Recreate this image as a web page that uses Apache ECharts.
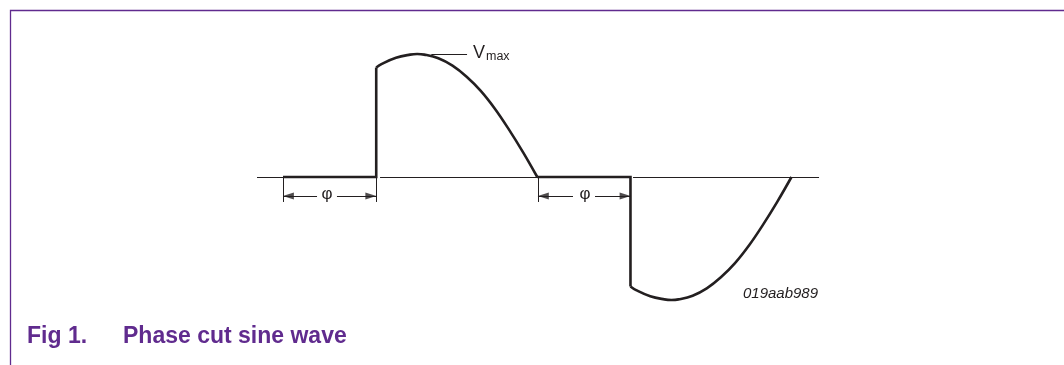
<!DOCTYPE html>
<html>
<head>
<meta charset="utf-8">
<script src="https://cdn.jsdelivr.net/npm/echarts@6/dist/echarts.min.js"></script>
<style>
  html, body { margin: 0; padding: 0; background: #fff; }
  #phase-chart { width: 1064px; height: 365px; }
</style>
</head>
<body>
<div id="phase-chart"></div>
<script>
// x in degrees of the mains cycle, y in units of Vmax
// flat part + switch-on edge of each half
var stepPosX = [0, 66, 66];
var stepPosY = [0, 0, 0.89];
var stepNegX = [180, 246, 246];
var stepNegY = [0, 0, -0.89];
// remaining sine arcs
var arcPosX = [66, 70, 80, 90, 95, 100, 110, 120, 130, 140, 150, 160, 170, 180];
var arcPosY = [0.89, 0.92, 0.97, 0.995, 1, 0.995, 0.965, 0.905, 0.815, 0.70, 0.555, 0.385, 0.20, 0];
var arcNegX = [246, 250, 260, 270, 275, 280, 290, 300, 310, 320, 330, 340, 350, 360];
var arcNegY = [-0.89, -0.92, -0.97, -0.995, -1, -0.995, -0.965, -0.905, -0.815, -0.70, -0.555, -0.385, -0.20, 0];

// thin zero line pieces
var axisSegs = [[-18.4, 66], [68.7, 246], [247.8, 379.5]];

// phi dimension marks
var dimTicks = [0, 66, 180.5, 246];
var tickBottom = -0.203;
var shaftY = -0.154;
var shaftsLeft = [[0, 24.1], [180.5, 205.3]];
var shaftsRight = [[38.2, 66], [220.9, 246]];
var phiX = [31.2, 213.8];
var phiY = -0.138;

// Vmax leader and labels
var leaderX = [105, 130.3];
var leaderY = 1.0;
var vLabel = [134.5, 1.004];
var maxLabel = [143.0, 0.976];
var codeLabel = [378.8, -0.947];

var ink = '#231f20';
var purple = '#602b8e';
var font = '"Liberation Sans", Arial, Helvetica, sans-serif';

var chart = echarts.init(document.getElementById('phase-chart'));

function pairs(xs, ys) { return xs.map(function (x, i) { return [x, ys[i]]; }); }

var segLines = [];
axisSegs.forEach(function (s) {
  segLines.push({ coords: [[s[0], 0], [s[1], 0]] });
});
dimTicks.forEach(function (x) {
  segLines.push({ coords: [[x, 0], [x, tickBottom]] });
});
shaftsLeft.concat(shaftsRight).forEach(function (s) {
  segLines.push({ coords: [[s[0], shaftY], [s[1], shaftY]] });
});
segLines.push({ coords: [[leaderX[0], leaderY], [leaderX[1], leaderY]] });

// arrow heads sit half a head length in from the tick
var headHalf = 3.8;
var heads = [];
shaftsLeft.forEach(function (s) { heads.push([s[0] + headHalf, shaftY, 90]); });
shaftsRight.forEach(function (s) { heads.push([s[1] - headHalf, shaftY, -90]); });

var waveStyle = { color: ink, width: 2.6, join: 'miter', cap: 'butt' };
function waveSeries(data, smooth) {
  return {
    type: 'line',
    data: data,
    smooth: smooth,
    showSymbol: false,
    symbol: 'none',
    silent: true,
    lineStyle: waveStyle,
    z: 3
  };
}

chart.setOption({
  animation: false,
  grid: { left: 254.75, right: 244.25, top: 29.4, bottom: 40.4 },
  xAxis: { type: 'value', min: -20, max: 380, show: false },
  yAxis: { type: 'value', min: -1.2, max: 1.2, show: false },
  series: [
    {
      type: 'lines',
      coordinateSystem: 'cartesian2d',
      symbol: 'none',
      silent: true,
      lineStyle: { color: ink, width: 1, opacity: 1 },
      data: segLines,
      z: 2
    },
    waveSeries(pairs(stepPosX, stepPosY), false),
    waveSeries(pairs(stepNegX, stepNegY), false),
    waveSeries(pairs(arcPosX, arcPosY), 0.4),
    waveSeries(pairs(arcNegX, arcNegY), 0.4),
    {
      type: 'scatter',
      data: heads,
      symbol: 'triangle',
      symbolSize: [7, 11],
      symbolRotate: function (v) { return v[2]; },
      itemStyle: { color: ink },
      silent: true,
      z: 4
    }
  ]
});

function px(p) { return chart.convertToPixel({ gridIndex: 0 }, p); }

var texts = [];
phiX.forEach(function (x) {
  var p = px([x, phiY]);
  texts.push({ type: 'text', style: { x: p[0], y: p[1], text: 'φ', font: '17px ' + font, fill: ink, textAlign: 'center', textVerticalAlign: 'middle' } });
});
var pv = px(vLabel), pm = px(maxLabel), pc = px(codeLabel);
texts.push({ type: 'text', style: { x: pv[0], y: pv[1], text: 'V', font: '18px ' + font, fill: ink, textAlign: 'left', textVerticalAlign: 'middle' } });
texts.push({ type: 'text', style: { x: pm[0] + 1, y: pm[1], text: 'max', font: '12.5px ' + font, fill: ink, textAlign: 'left', textVerticalAlign: 'middle' } });
texts.push({ type: 'text', style: { x: pc[0], y: pc[1], text: '019aab989', font: 'italic 15px ' + font, fill: ink, textAlign: 'right', textVerticalAlign: 'middle' } });

// frame and caption
texts.push({ type: 'polyline', shape: { points: [[10.5, 365], [10.5, 10.5], [1064, 10.5]] }, style: { stroke: purple, lineWidth: 1.3, fill: null } });
texts.push({ type: 'text', style: { x: 27, y: 337, text: 'Fig 1.', font: 'bold 23px ' + font, fill: purple, textAlign: 'left', textVerticalAlign: 'middle' } });
texts.push({ type: 'text', style: { x: 123, y: 337, text: 'Phase cut sine wave', font: 'bold 23px ' + font, fill: purple, textAlign: 'left', textVerticalAlign: 'middle' } });

chart.setOption({ graphic: texts });
</script>
</body>
</html>
